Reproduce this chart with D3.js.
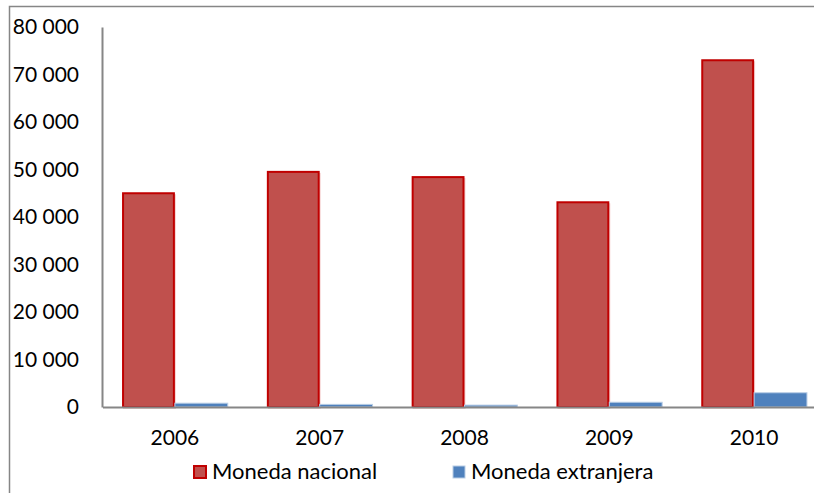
<!DOCTYPE html>
<html><head><meta charset="utf-8">
<script src="https://cdn.jsdelivr.net/npm/d3@7"></script>
<style>body{margin:0;background:#fff;overflow:hidden}svg{display:block}</style>
</head><body>
<svg id="c" width="814" height="493"></svg>
<script>
const years = ["2006","2007","2008","2009","2010"];
const seriesNames = ["Moneda nacional","Moneda extranjera"];
const nacional = [45000, 49500, 48400, 43100, 73000];
const extranjera = [800, 550, 400, 1000, 3000];
const yTicks = [0,10000,20000,30000,40000,50000,60000,70000,80000];

const svg = d3.select("#c");
const font = "Lato, 'Open Sans', sans-serif";
const colors = ["#c0504d","#4f81bd"];
const strokes = ["#c00000","#b9cde5"];

// outer chart border
svg.append("rect").attr("x",9.5).attr("y",6.5).attr("width",830).attr("height",520)
  .attr("fill","none").attr("stroke","#868686").attr("stroke-width",1.5);

const x0 = d3.scaleBand().domain(years).range([102.5, 826.5]).paddingInner(0.27).paddingOuter(0.135);
const x1 = d3.scaleBand().domain(seriesNames).range([0, x0.bandwidth()]);
const y = d3.scaleLinear().domain([0,80000]).range([407,27]);

const data = years.map((yr,i)=>({year:yr, vals:[nacional[i], extranjera[i]]}));
const g = svg.append("g");
data.forEach(d=>{
  d.vals.forEach((v,j)=>{
    const xx = x0(d.year)+x1(seriesNames[j]);
    if(j===0){
      g.append("rect").attr("x",xx+1).attr("y",y(v)+1).attr("width",x1.bandwidth()).attr("height",y(0)-y(v)+1)
       .attr("fill","#f3c7c6").attr("opacity",0.8);
    }
    g.append("rect").attr("x",xx+ (j===0?1:0)).attr("y",y(v)).attr("width",x1.bandwidth()-(j===0?2:0))
      .attr("height",y(0)-y(v)).attr("fill",colors[j])
      .attr("stroke",strokes[j]).attr("stroke-width",j===0?2:1);
  });
});

// axes
const yAxis = d3.axisLeft(y).tickValues(yTicks).tickSize(0).tickPadding(23)
  .tickFormat(d=>d3.format(",")(d).replace(/,/g," "));
const ya = svg.append("g").attr("transform","translate(102,0)").call(yAxis);
ya.select(".domain").attr("stroke","#868686").attr("stroke-width",2);
ya.selectAll("text").attr("font-family",font).attr("font-size",21).attr("fill","#000");

const xAxis = d3.axisBottom(x0).tickSize(0).tickPadding(23);
const xa = svg.append("g").attr("transform","translate(0,407)").call(xAxis);
xa.select(".domain").attr("stroke","#868686").attr("stroke-width",2);
xa.selectAll("text").attr("font-family",font).attr("font-size",21).attr("fill","#000");

// legend
const legX = [193, 452];
seriesNames.forEach((s,i)=>{
  svg.append("rect").attr("x",legX[i]+1).attr("y",466).attr("width",12).attr("height",12)
    .attr("fill",colors[i]).attr("stroke",strokes[i]).attr("stroke-width",i===0?2:1);
  svg.append("text").attr("x",legX[i]+19).attr("y",478.5).text(s)
    .attr("font-family",font).attr("font-size",22).attr("fill","#000");
});
</script>
</body></html>
